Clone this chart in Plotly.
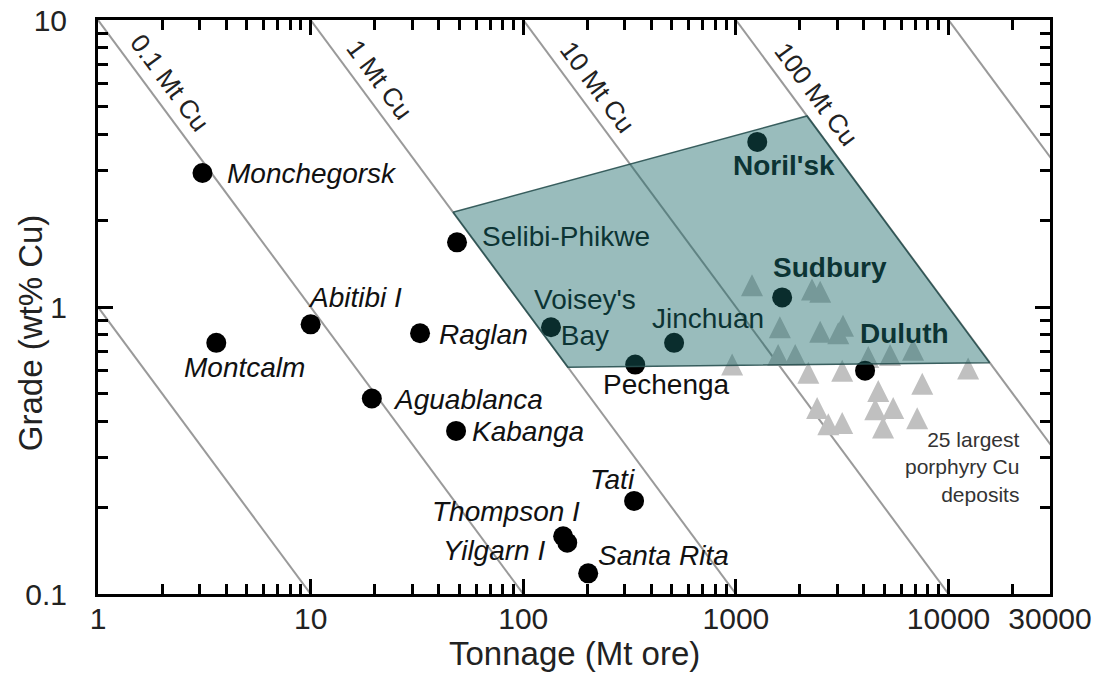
import numpy as np
import plotly.graph_objects as go

# --- Ni-Cu sulphide deposits: tonnage (Mt ore) and grade (wt% Cu) ---
deposit_names = ["Monchegorsk", "Montcalm", "Abitibi I", "Raglan", "Aguablanca", "Kabanga",
                 "Selibi-Phikwe", "Voisey's Bay", "Jinchuan", "Pechenga", "Noril'sk",
                 "Sudbury", "Duluth", "Tati", "Thompson I", "Yilgarn I", "Santa Rita"]
deposit_tonnage = [3.1, 3.6, 10.0, 32.7, 19.4, 48.3, 48.8, 135, 512, 336, 1260,
                   1650, 4050, 332, 154, 161, 202]
deposit_grade = [2.93, 0.75, 0.87, 0.81, 0.48, 0.37, 1.68, 0.85, 0.75, 0.63, 3.76,
                 1.08, 0.60, 0.211, 0.159, 0.151, 0.118]

# --- 25 largest porphyry Cu deposits ---
porphyry_tonnage = [1190, 2280, 2490, 1610, 2490, 3190, 3030, 1580, 1900, 960, 2190, 3160,
                    2410, 2720, 3160, 4190, 5310, 6810, 12360, 7520, 4670, 4520, 5490, 7120, 4920]
porphyry_grade = [1.19, 1.15, 1.13, 0.85, 0.82, 0.86, 0.81, 0.68, 0.68, 0.63, 0.59, 0.60,
                  0.445, 0.39, 0.394, 0.67, 0.68, 0.71, 0.61, 0.54, 0.51, 0.44, 0.445, 0.41, 0.38]

# --- field of the giant magmatic sulphide deposits ---
field_tonnage = [46.7, 2160, 15600, 162]
field_grade = [2.14, 4.63, 0.64, 0.617]

# --- lines of equal contained metal (Mt Cu) ---
cu_contents = [0.01, 0.1, 1, 10, 100, 1000]
cu_labels = ["0.1 Mt Cu", "1 Mt Cu", "10 Mt Cu", "100 Mt Cu"]
cu_label_metal = [0.1, 1, 10, 100]
cu_label_tonnage = [1.83, 17.8, 188, 2000]

# axis ticks
x_major = [1, 10, 100, 1000, 10000, 30000]
x_major_text = ["1", "10", "100", "1000", "10000", "30000"]
x_minor = [m * d for d in (1, 10, 100, 1000) for m in range(2, 10)] + [20000]
y_major = [0.1, 1, 10]
y_major_text = ["0.1", "1", "10"]
y_minor = [m * d for d in (0.1, 1) for m in range(2, 10)]

FONT = "Liberation Sans, Arial, sans-serif"
BLACK = "#111111"
FIELD_TEXT = "#0c3434"

# label placement (pixel offsets from the deposit marker) and style
label_style = {
    "Monchegorsk": (23, 0, "left", "i", BLACK),
    "Montcalm": (28, -25, "center", "i", BLACK),
    "Abitibi I": (44, 27, "center", "i", BLACK),
    "Raglan": (17, -1, "left", "i", BLACK),
    "Aguablanca": (19, -1, "left", "i", BLACK),
    "Kabanga": (14, -1, "left", "i", BLACK),
    "Selibi-Phikwe": (23, 6, "left", "", FIELD_TEXT),
    "Voisey's Bay": (34, 10, "center", "", FIELD_TEXT),
    "Jinchuan": (34, 24, "center", "", FIELD_TEXT),
    "Pechenga": (31, -20, "center", "", BLACK),
    "Noril'sk": (27, -24, "center", "b", FIELD_TEXT),
    "Sudbury": (48, 30, "center", "b", FIELD_TEXT),
    "Duluth": (39, 37, "center", "b", FIELD_TEXT),
    "Tati": (-22, 21, "center", "i", BLACK),
    "Thompson I": (19, 25, "right", "i", BLACK),
    "Yilgarn I": (-20, -8, "right", "i", BLACK),
    "Santa Rita": (8, 18, "left", "i", BLACK),
}

fig = go.Figure()

# contained-metal lines: grade (%) = 100 * Cu / tonnage
line_x, line_y = [], []
for cu in cu_contents:
    t_ends = [0.1, 1e6]
    line_x += t_ends + [None]
    line_y += [100 * cu / t for t in t_ends] + [None]
fig.add_trace(go.Scatter(x=line_x, y=line_y, mode="lines",
                         line=dict(color="#9a9a9a", width=2), hoverinfo="skip"))

# porphyry Cu deposits (upward triangles, equal width and height)
fig.add_trace(go.Scatter(x=porphyry_tonnage, y=porphyry_grade, mode="markers",
                         marker=dict(symbol="arrow-down", angle=180, size=22, standoff=11,
                                     color="#c0c0c0", line=dict(width=0))))

# magmatic Ni-Cu deposits
fig.add_trace(go.Scatter(x=deposit_tonnage, y=deposit_grade, mode="markers",
                         marker=dict(symbol="circle", size=20, color="#000000",
                                     line=dict(width=0))))

# translucent field drawn over the symbols
fig.add_trace(go.Scatter(x=field_tonnage + field_tonnage[:1], y=field_grade + field_grade[:1],
                         mode="lines", fill="toself",
                         fillcolor="rgba(23,102,102,0.44)",
                         line=dict(color="rgba(40,80,80,0.9)", width=1.5),
                         hoverinfo="skip"))

# empty trace that carries the minor-tick axes
fig.add_trace(go.Scatter(x=[], y=[], xaxis="x2", yaxis="y2", hoverinfo="skip"))

annotations = []
for name, t, g in zip(deposit_names, deposit_tonnage, deposit_grade):
    dx, dy, anchor, style, color = label_style[name]
    text = name.replace(" Bay", "<br>Bay") if name == "Voisey's Bay" else name
    if style:
        text = f"<{style}>{text}</{style}>"
    annotations.append(dict(x=np.log10(t), y=np.log10(g), xref="x", yref="y",
                            text=text, showarrow=False, xanchor=anchor, yanchor="middle",
                            xshift=dx, yshift=dy, align="center",
                            font=dict(family=FONT, size=28, color=color)))

# contained-metal line labels, rotated along the lines
x_px = 952 / np.log10(30000)
y_px = 574 / 2
angle = np.degrees(np.arctan(y_px / x_px))
for txt, cu, t in zip(cu_labels, cu_label_metal, cu_label_tonnage):
    annotations.append(dict(x=np.log10(t), y=np.log10(100 * cu / t), xref="x", yref="y",
                            text=txt, showarrow=False, textangle=angle,
                            xanchor="center", yanchor="middle", xshift=16, yshift=12,
                            font=dict(family=FONT, size=26, color="#222222")))

annotations.append(dict(x=np.log10(22200), y=np.log10(0.277), xref="x", yref="y",
                        text="25 largest<br>porphyry Cu<br>deposits", showarrow=False,
                        xanchor="right", yanchor="middle", align="right",
                        font=dict(family=FONT, size=21, color="#333333")))

# axis titles
annotations.append(dict(x=0.5, y=-0.103, xref="paper", yref="paper",
                        text="Tonnage (Mt ore)", showarrow=False,
                        xanchor="center", yanchor="middle",
                        font=dict(family=FONT, size=33, color="#222222")))
annotations.append(dict(x=-0.071, y=0.455, xref="paper", yref="paper",
                        text="Grade (wt% Cu)", showarrow=False, textangle=-90,
                        xanchor="center", yanchor="middle",
                        font=dict(family=FONT, size=33, color="#222222")))

frame = dict(type="log", showgrid=False, zeroline=False, automargin=False,
             showline=True, linecolor="black", linewidth=3, mirror="allticks",
             ticks="inside", tickwidth=3, tickcolor="black")

fig.update_layout(
    width=1095, height=675,
    margin=dict(l=98, r=45, t=20, b=81, autoexpand=False),
    paper_bgcolor="white", plot_bgcolor="white",
    showlegend=False,
    # major ticks with labels
    xaxis=dict(range=[0, np.log10(30000)], tickmode="array", tickvals=x_major,
               ticktext=x_major_text, ticklen=15, ticklabelstandoff=-4,
               tickfont=dict(family=FONT, size=30, color="#222222"), **frame),
    yaxis=dict(range=[-1, 1], tickmode="array", tickvals=y_major,
               ticktext=y_major_text, ticklen=15, ticklabelstandoff=22,
               tickfont=dict(family=FONT, size=30, color="#222222"), **frame),
    # minor ticks on overlaid axes
    xaxis2=dict(range=[0, np.log10(30000)], overlaying="x", anchor="y2", side="bottom",
                tickmode="array", tickvals=x_minor, ticklen=10, showticklabels=False,
                **frame),
    yaxis2=dict(range=[-1, 1], overlaying="y", anchor="x2", side="left",
                tickmode="array", tickvals=y_minor, ticklen=10, showticklabels=False,
                **frame),
    annotations=annotations,
)

fig.write_html("out.html")
